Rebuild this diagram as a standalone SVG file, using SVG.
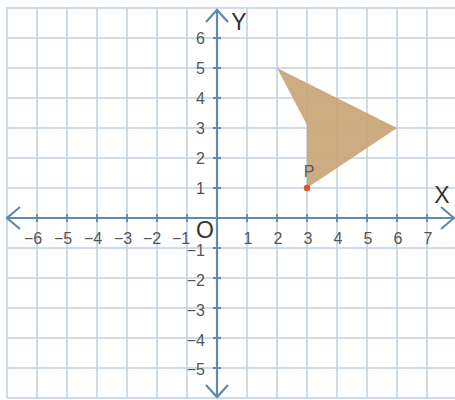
<svg xmlns="http://www.w3.org/2000/svg" width="455" height="400" viewBox="0 0 455 400">
<style>
.grid{stroke:#c3d1de;stroke-width:1.6;fill:none}
.axis{stroke:#5f8aa9;stroke-width:2.2;fill:none}
.tick{stroke:#5f8aa9;stroke-width:1.8}
.lbl{font-family:"Liberation Sans",Arial,sans-serif;font-size:16px;fill:#555}
.big{font-family:"Liberation Sans",Arial,sans-serif;font-size:23px;fill:#333}
</style>
<rect width="455" height="400" fill="#ffffff"/>
<g id="grid" class="grid">
<path d="M7 7V398M37 7V398M67 7V398M97 7V398M127 7V398M157 7V398M187 7V398M247 7V398M277 7V398M307 7V398M337 7V398M367 7V398M397 7V398M427 7V398"/>
<path d="M7 8H455M7 38H455M7 68H455M7 98H455M7 128H455M7 158H455M7 188H455M7 248H455M7 278H455M7 308H455M7 338H455M7 368H455M7 398H455"/>
</g>
<g id="shape">
<polygon points="277,68 397,128 307,188 307,125" fill="#c9a577" fill-opacity="0.92"/>
</g>
<g id="axes">
<path class="axis" d="M7 218H454M217 10V397"/>
<path class="axis" d="M20 207L7 218L20 229M441 207L454 218L441 229M206 22L217 10L228 22M206 385L217 397L228 385"/>
<path class="tick" d="M37 214V222M67 214V222M97 214V222M127 214V222M157 214V222M187 214V222M247 214V222M277 214V222M307 214V222M337 214V222M367 214V222M397 214V222M427 214V222"/>
<path class="tick" d="M213 38H221M213 68H221M213 98H221M213 128H221M213 158H221M213 188H221M213 248H221M213 278H221M213 308H221M213 338H221M213 368H221"/>
</g>
<g id="xlabels" class="lbl" text-anchor="middle">
<text x="33" y="244">−6</text><text x="63" y="244">−5</text><text x="93" y="244">−4</text><text x="123" y="244">−3</text><text x="152" y="244">−2</text><text x="181" y="244">−1</text>
<text x="248" y="244">1</text><text x="278" y="244">2</text><text x="308" y="244">3</text><text x="338" y="244">4</text><text x="368" y="244">5</text><text x="398" y="244">6</text><text x="428" y="244">7</text>
</g>
<g id="ylabels" class="lbl" text-anchor="end">
<text x="205" y="44">6</text><text x="205" y="74">5</text><text x="205" y="104">4</text><text x="205" y="134">3</text><text x="205" y="164">2</text><text x="205" y="194">1</text>
<text x="205" y="256">−1</text><text x="205" y="286">−2</text><text x="205" y="316">−3</text><text x="205" y="346">−4</text><text x="205" y="375">−5</text>
</g>
<g id="axis-names">
<text class="big" x="205" y="238" text-anchor="middle">O</text>
<text class="big" x="239" y="30" text-anchor="middle">Y</text>
<text class="big" x="442" y="203" text-anchor="middle">X</text>
</g>
<g id="point-P">
<circle cx="307" cy="188" r="3.2" fill="#e9512b"/>
<text class="lbl" x="309" y="177" text-anchor="middle">P</text>
</g>
</svg>
